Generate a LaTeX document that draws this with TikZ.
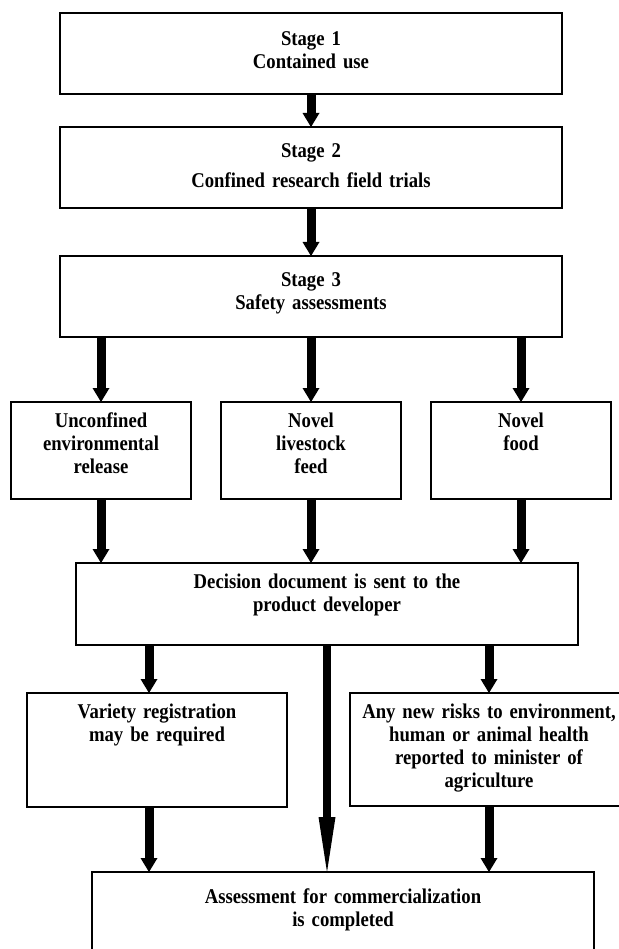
\documentclass[tikz,border=0pt]{standalone}
\usepackage{fontspec}
\setmainfont{Liberation Serif}[FakeStretch=0.89, WordSpace=0.8]
\usepackage{tikz}
\usetikzlibrary{arrows.meta,calc}

\begin{document}
\begin{tikzpicture}[x=1pt, y=-1pt,
    stagebox/.style={draw, black, line width=2pt, fill=white, outer sep=0pt, inner sep=0pt,
      align=center, anchor=north, font=\fontsize{21}{23}\selectfont\bfseries},
    fatarrow/.style={line width=9pt, -{Triangle[width=17pt, length=14pt, line width=0pt]}},
    longarrow/.style={line width=8pt, -{Triangle[width=17pt, length=55pt, line width=0pt]}}]
    \useasboundingbox (0,0) rectangle (618,949);

    \node[stagebox, text width=502pt, text height=33pt, text depth=48pt] (stage1) at (311,13) {Stage 1\\Contained use};
    \node[stagebox, text width=502pt, text height=31pt, text depth=50pt] (stage2) at (311,127) {Stage 2\\[7pt]Confined research field trials};
    \node[stagebox, text width=502pt, text height=31pt, text depth=50pt] (stage3) at (311,256) {Stage 3\\Safety assessments};

    \node[stagebox, text width=180pt, text height=25pt, text depth=72pt] (uncon) at (101,402) {Unconfined\\environmental\\release};
    \node[stagebox, text width=180pt, text height=25pt, text depth=72pt] (feed) at (311,402) {Novel\\livestock\\feed};
    \node[stagebox, text width=180pt, text height=25pt, text depth=72pt] (food) at (521,402) {Novel\\food};

    \node[stagebox, text width=502pt, text height=25pt, text depth=57pt] (decision) at (327,563) {Decision document is sent to the\\product developer};

    \node[stagebox, text width=260pt, text height=25pt, text depth=89pt] (variety) at (157,693) {Variety registration\\may be required};
    \node[stagebox, text width=278pt, text height=25pt, text depth=88pt] (risks) at (489,693) {Any new risks to environment,\\human or animal health\\reported to minister of\\agriculture};

    \node[stagebox, text width=502pt, text height=31pt, text depth=90pt] (assess) at (343,872) {Assessment for commercialization\\is completed};

    \coordinate (leftcol) at (149,0);

    \draw[fatarrow] (stage1.south) -- (stage2.north);
    \draw[fatarrow] (stage2.south) -- (stage3.north);
    \draw[fatarrow] (stage3.south -| uncon.north) -- (uncon.north);
    \draw[fatarrow] (stage3.south -| feed.north) -- (feed.north);
    \draw[fatarrow] (stage3.south -| food.north) -- (food.north);
    \draw[fatarrow] (uncon.south) -- (decision.north -| uncon.south);
    \draw[fatarrow] (feed.south) -- (decision.north -| feed.south);
    \draw[fatarrow] (food.south) -- (decision.north -| food.south);
    \draw[fatarrow] (decision.south -| leftcol) -- (variety.north -| leftcol);
    \draw[longarrow] (decision.south) -- (assess.north -| decision.south);
    \draw[fatarrow] (decision.south -| risks.north) -- (risks.north);
    \draw[fatarrow] (variety.south -| leftcol) -- (assess.north -| leftcol);
    \draw[fatarrow] (risks.south) -- (assess.north -| risks.south);
\end{tikzpicture}
\end{document}
